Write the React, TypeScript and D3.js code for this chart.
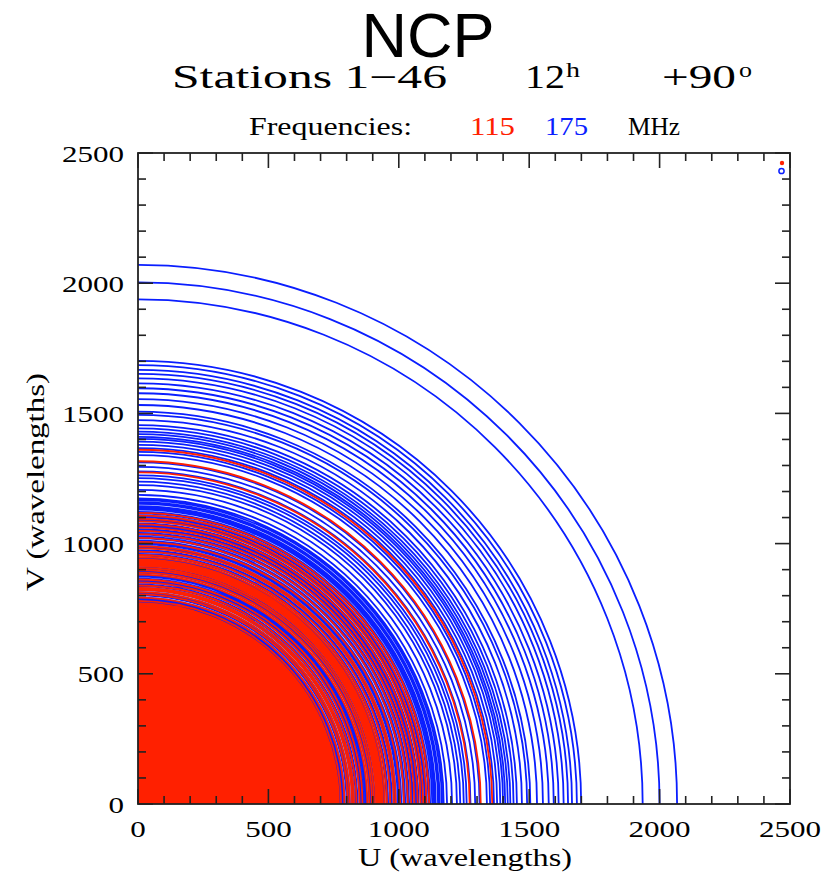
import React, { useMemo } from "react";
import * as d3 from "d3";

// Observing frequencies (MHz) and their plot colours
const frequenciesMHz = [115, 175];
const frequencyColors = ["#ff2000", "#0a1eff"];

// Projected baseline lengths (metres) for stations 1-46; at the NCP each
// baseline traces a full circle in the uv-plane over 12 hours.
const coreBaselines = [
  14, 31, 47, 58, 70, 85, 96, 108, 121, 133, 142, 156, 167, 179, 188, 201, 213, 222, 236, 247,
  259, 268, 281, 293, 302, 316, 325, 339, 350, 361, 373, 382, 396, 407, 418, 430, 441, 453, 462,
  476, 487, 498, 510, 521, 533, 544, 553, 567, 578, 590, 599, 613, 624, 635, 647, 658, 670, 679,
  693, 704, 716, 725, 739, 750, 761, 773, 784, 796, 805, 819, 830, 842, 851, 865, 876, 887, 899,
  910, 922, 931, 945, 956, 968, 977, 991, 1002, 1013, 1025, 1036, 1048, 1057, 1071, 1082, 1094,
  1103, 1117, 1128, 1139, 1151, 1162, 1174, 1183, 1197, 1208, 1220, 1229, 1243, 1254, 1265, 1277,
  1288, 1300, 1309, 1323, 1334,
];
const midBaselines = [
  1345, 1356, 1370, 1381, 1392, 1407, 1418, 1431, 1442, 1456, 1467, 1481, 1493, 1504, 1519, 1530,
  1544, 1555, 1569, 1580, 1594, 1606, 1617, 1632, 1643, 1657, 1668, 1682, 1693, 1707, 1719, 1730,
  1745, 1756, 1770, 1781, 1795, 1806, 1820, 1832, 1843, 1858, 1869, 1883, 1894, 1908, 1919, 1933,
  1945, 1956, 1971, 1982, 1996,
];
const outerBaselines = [
  2008, 2030, 2063, 2095, 2117, 2140, 2159, 2184, 2215, 2244, 2292, 2313, 2338, 2359, 2380, 2398,
  2412, 2429, 2446, 2467, 2489, 2522, 2556, 2577, 2621, 2660, 2698, 2731, 2763, 2796, 2825, 2851,
  2883, 2911, 3315, 3426, 3541,
];

const axisTicks = [0, 500, 1000, 1500, 2000, 2500];
const minorTicks = d3.range(0, 2501, 100);

const SPEED_OF_LIGHT = 299792458;

const X0 = 138;
const X1 = 790;
const Y0 = 804;
const Y1 = 153;

const serif = "'Liberation Serif', 'Times New Roman', serif";

export default function App() {
  const x = d3.scaleLinear().domain([0, 2500]).range([X0, X1]);
  const y = d3.scaleLinear().domain([0, 2500]).range([Y0, Y1]);

  const baselines = [...coreBaselines, ...midBaselines, ...outerBaselines];

  // One set of quarter-circle tracks per frequency; higher frequency first so
  // the lower-frequency tracks sit on top.
  const layers = useMemo(() => {
    const order = [1, 0];
    return order.map((fi) => {
      const f = frequenciesMHz[fi] * 1e6;
      const p = d3.path();
      baselines.forEach((L) => {
        const r = (L * f) / SPEED_OF_LIGHT;
        const rpx = x(r) - x(0);
        p.moveTo(x(0) + rpx, y(0));
        p.arc(x(0), y(0), rpx, 0, -Math.PI / 2, true);
      });
      return { color: frequencyColors[fi], d: p.toString() };
    });
  }, []);

  const labelLen = (v: number) => String(v).length * 15.5;

  return (
    <svg
      width={839}
      height={876}
      style={{ position: "absolute", left: 0, top: 0, background: "#fff" }}
    >
      <defs>
        <clipPath id="plotClip">
          <rect x={X0} y={Y1} width={X1 - X0} height={Y0 - Y1} />
        </clipPath>
      </defs>

      {/* Titles */}
      <text
        x={428}
        y={57}
        textAnchor="middle"
        fontFamily="'Liberation Sans', Arial, sans-serif"
        fontSize={63}
        fill="#000"
      >
        NCP
      </text>
      <g fontFamily={serif} fill="#000">
        <text x={172} y={88} fontSize={33} textLength={275} lengthAdjust="spacingAndGlyphs">
          Stations 1−46
        </text>
        <text x={525} y={88} fontSize={33} textLength={40} lengthAdjust="spacingAndGlyphs">
          12
        </text>
        <text x={566} y={77} fontSize={21} textLength={14} lengthAdjust="spacingAndGlyphs">
          h
        </text>
        <text x={662} y={88} fontSize={33} textLength={74} lengthAdjust="spacingAndGlyphs">
          +90
        </text>
        <text x={739} y={77} fontSize={21} textLength={13} lengthAdjust="spacingAndGlyphs">
          o
        </text>
      </g>
      <g fontFamily={serif} fontSize={25}>
        <text x={249} y={135} textLength={163} lengthAdjust="spacingAndGlyphs" fill="#000">
          Frequencies:
        </text>
        <text x={470} y={135} textLength={45} lengthAdjust="spacingAndGlyphs" fill={frequencyColors[0]}>
          {frequenciesMHz[0]}
        </text>
        <text x={545} y={135} textLength={43} lengthAdjust="spacingAndGlyphs" fill={frequencyColors[1]}>
          {frequenciesMHz[1]}
        </text>
        <text x={628} y={135} textLength={52} lengthAdjust="spacingAndGlyphs" fill="#000">
          MHz
        </text>
      </g>

      {/* uv tracks */}
      <g clipPath="url(#plotClip)" fill="none" strokeWidth={1.8}>
        {layers.map((l, i) => (
          <path key={i} d={l.d} stroke={l.color} />
        ))}
      </g>

      {/* Symbol key, top right */}
      <circle cx={782} cy={163} r={2.2} fill={frequencyColors[0]} />
      <circle cx={781.5} cy={171} r={2.6} fill="none" stroke={frequencyColors[1]} strokeWidth={1.5} />

      {/* Ticks on all four sides, pointing inward */}
      <g stroke="#222" strokeWidth={1.6}>
        {minorTicks.map((t) => {
          const len = t % 500 === 0 ? 15 : 8;
          return (
            <g key={t}>
              <line x1={x(t)} x2={x(t)} y1={Y0} y2={Y0 - len} />
              <line x1={x(t)} x2={x(t)} y1={Y1} y2={Y1 + len} />
              <line x1={X0} x2={X0 + len} y1={y(t)} y2={y(t)} />
              <line x1={X1} x2={X1 - len} y1={y(t)} y2={y(t)} />
            </g>
          );
        })}
      </g>
      <rect x={X0} y={Y1} width={X1 - X0} height={Y0 - Y1} fill="none" stroke="#222" strokeWidth={1.8} />

      {/* Tick labels */}
      <g fontFamily={serif} fontSize={24} fill="#000">
        {axisTicks.map((t) => (
          <text
            key={"y" + t}
            x={124}
            y={y(t) + 8.5}
            textAnchor="end"
            textLength={labelLen(t)}
            lengthAdjust="spacingAndGlyphs"
          >
            {t}
          </text>
        ))}
        {axisTicks.map((t) => (
          <text
            key={"x" + t}
            x={x(t)}
            y={837}
            textAnchor="middle"
            textLength={labelLen(t)}
            lengthAdjust="spacingAndGlyphs"
          >
            {t}
          </text>
        ))}
      </g>

      {/* Axis titles */}
      <g fontFamily={serif} fontSize={25} fill="#000">
        <text x={465} y={866} textAnchor="middle" textLength={214} lengthAdjust="spacingAndGlyphs">
          U (wavelengths)
        </text>
        <text
          transform={`translate(44,482) rotate(-90)`}
          textAnchor="middle"
          textLength={218}
          lengthAdjust="spacingAndGlyphs"
        >
          V (wavelengths)
        </text>
      </g>
    </svg>
  );
}
